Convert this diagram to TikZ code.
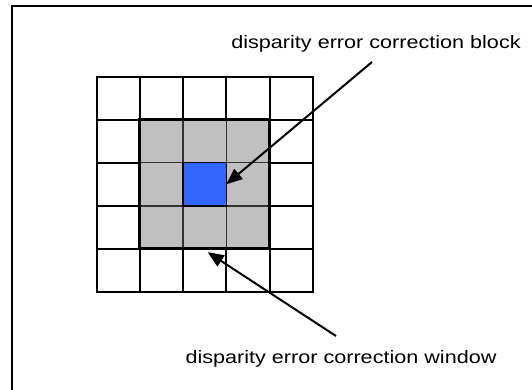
\documentclass[tikz,border=0pt]{standalone}
\usepackage{fontspec}
\usetikzlibrary{arrows.meta}
\newfontfamily\labelfont[FakeStretch=1.2]{Liberation Sans}
\definecolor{winGray}{HTML}{C0C0C0}
\definecolor{blkBlue}{HTML}{3366FF}

\begin{document}
\begin{tikzpicture}[
        x=1pt, y=-1pt,
        cell/.style={rectangle, draw=black, line width=2pt, minimum width=43.2pt, minimum height=43pt, inner sep=0pt, outer sep=0pt},
        wincell/.style={cell, fill=winGray, draw=black!80, line width=1.6pt},
        blkcell/.style={cell, fill=blkBlue, draw=black, line width=1.6pt},
        winedge/.style={draw=black, line width=3pt},
        frame/.style={draw=black, line width=2.5pt},
        label/.style={font=\labelfont\fontsize{18}{21}\selectfont, anchor=base, inner sep=0pt},
        arrow/.style={-{Triangle[length=16pt, width=13pt]}, line width=2pt}
      ]
        \useasboundingbox (0,0) rectangle (532,390);
        \draw[frame] (12,390) -- (12,6) -- (532,6);
        % 5x5 grid
        \foreach \i in {0,...,4}
          \foreach \j in {0,...,4}
            \node[cell] (c\i\j) at ({118.3+43.2*\i},{98.2+43*\j}) {};
        % correction window
        \foreach \i in {1,2,3}
          \foreach \j in {1,2,3}
            \node[wincell] (w\i\j) at (c\i\j) {};
        \node[blkcell] (blk) at (c22) {};
        \draw[winedge] (w11.north west) rectangle (w33.south east);
        % labels
        \node[label] (blkLabel) at (376,48.3) {disparity error correction block};
        \node[label] (winLabel) at (341,363.3) {disparity error correction window};
        \coordinate (blkTail) at (372,62);
        \coordinate (winTail) at (336,336);
        \draw[arrow] (blkTail) -- (blk.east);
        \draw[arrow] (winTail) -- ([xshift=3pt, yshift=-3.5pt]w23.south);
      \end{tikzpicture}
\end{document}
